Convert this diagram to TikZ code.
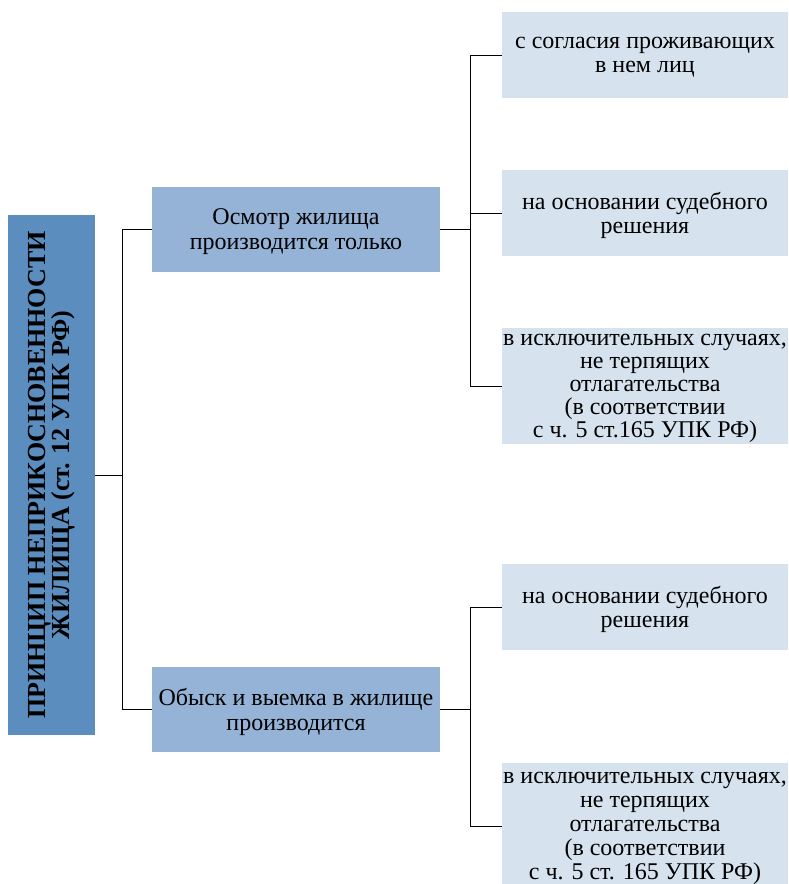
\documentclass[tikz,border=0pt]{standalone}
\usepackage{fontspec}
\setmainfont{Liberation Serif}
\definecolor{rootblue}{HTML}{5B8DBF}
\definecolor{midblue}{HTML}{95B3D7}
\definecolor{leafblue}{HTML}{D6E3EF}
\begin{document}
\begin{tikzpicture}[x=1pt, y=-1pt,
    rootbox/.style={fill=rootblue, rotate=90, minimum width=520pt, minimum height=87pt,
        align=center, inner sep=0pt, font=\fontsize{26}{24.5}\selectfont\bfseries},
    midbox/.style={fill=midblue, minimum width=288pt, minimum height=85pt, text depth=0pt,
        align=center, inner sep=0pt, font=\fontsize{24}{25}\selectfont},
    leafbox/.style={fill=leafblue, minimum width=286pt, minimum height=86pt, text depth=0pt,
        align=center, inner sep=0pt, font=\fontsize{24}{24.5}\selectfont},
    longbox/.style={leafbox, font=\fontsize{24}{23}\selectfont}]
    \useasboundingbox (0, 0) rectangle (788, 884);
    \clip (0, 0) rectangle (788, 884);
    % root
    \node[rootbox] (root) at (51.5, 475) {ПРИНЦИП НЕПРИКОСНОВЕННОСТИ\\ЖИЛИЩА (ст. 12 УПК РФ)};
    % middle level
    \node[midbox] (osmotr) at (296, 229) {Осмотр жилища\\производится только};
    \node[midbox] (obysk) at (296, 709) {Обыск и выемка в жилище\\производится};
    % leaves
    \node[leafbox] (soglasie) at (645, 55) {с согласия проживающих\\в нем лиц};
    \node[leafbox] (sud1) at (645, 213) {на основании судебного\\решения};
    \node[longbox, minimum height=116pt] (iskl1) at (645, 386)
        {в исключительных случаях,\\не терпящих\\отлагательства\\(в соответствии\\с ч. 5 ст.165 УПК РФ)};
    \node[leafbox] (sud2) at (645, 607) {на основании судебного\\решения};
    \node[longbox, font=\fontsize{24}{24}\selectfont, minimum height=126pt] (iskl2) at (645, 826)
        {в исключительных случаях,\\не терпящих\\отлагательства\\(в соответствии\\с ч. 5 ст. 165 УПК РФ)};
    % connectors
    \draw (root.south) -- ++(27, 0);
    \draw (osmotr.west) -- ++(-30, 0) |- (obysk.west);
    \draw (osmotr.east) -- ++(30, 0);
    \draw (soglasie.west) -- ++(-32, 0) |- (iskl1.west);
    \draw (sud1.west) -- ++(-32, 0);
    \draw (obysk.east) -- ++(30, 0);
    \draw (sud2.west) -- ++(-32, 0) |- (iskl2.west);
\end{tikzpicture}
\end{document}
